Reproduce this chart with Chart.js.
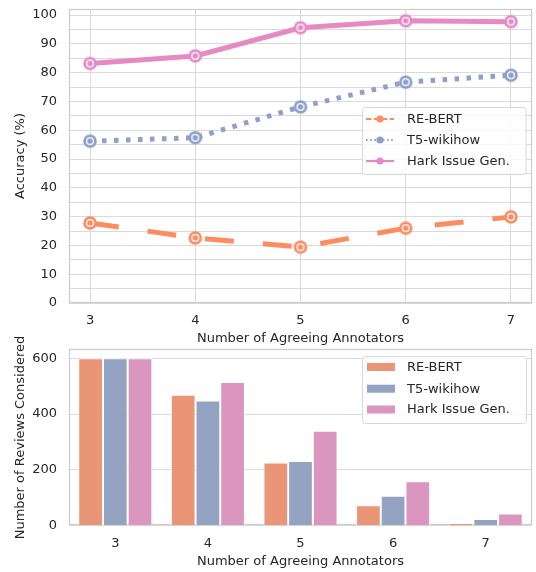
<!DOCTYPE html>
<html><head><meta charset="utf-8">
<script src="https://cdn.jsdelivr.net/npm/chart.js@4.4.1/dist/chart.umd.min.js"></script>
<style>
html,body{margin:0;padding:0;background:#fff;}
canvas{position:absolute;left:0;}
</style></head>
<body>
<canvas id="c1" width="536" height="350" style="top:0px"></canvas>
<canvas id="c2" width="536" height="252" style="top:320px"></canvas>
<script>
// ---------- data ----------
const annotators = [3, 4, 5, 6, 7];
const seriesNames = ['RE-BERT', 'T5-wikihow', 'Hark Issue Gen.'];
const accReBert = [27.8, 22.6, 19.4, 26.0, 29.9];
const accT5 = [56.2, 57.4, 68.1, 76.7, 79.1];
const accHark = [83.2, 85.8, 95.6, 98.0, 97.7];
const revReBert = [600, 469, 226, 73, 10];
const revT5 = [600, 449, 232, 107, 24];
const revHark = [600, 515, 340, 159, 44];
const accTickLabels = [0, 10, 20, 30, 40, 50, 60, 70, 80, 90, 100];
const accGridLines = [0, 5, 10, 15, 20, 25, 30, 35, 40, 45, 50, 55, 60, 65, 70, 75, 80, 85, 90, 95, 100];
const revTickLabels = [0, 200, 400, 600];
const xTitle = 'Number of Agreeing Annotators';
const accTitle = 'Accuracy (%)';
const revTitle = 'Number of Reviews Considered';

// ---------- styles ----------
const lineColors = ['#fc8d62', '#8da0cb', '#e78ac3'];
const barColors = ['#e99576', '#95a3c3', '#db96c0'];
const lineDashes = [[29, 29], [4.5, 7.5], []];
const legendDashes = [[5.5, 2.4], [1.6, 2.6], []];
const textColor = '#262626';
const gridColor = '#dadada';
const edgeColor = '#cccccc';
const FONT = 'DejaVu Sans';
Chart.defaults.font.family = FONT;
Chart.defaults.font.size = 13;
Chart.defaults.color = textColor;

function makeMarker(color) {
  const c = document.createElement('canvas');
  c.width = 16; c.height = 16;
  const g = c.getContext('2d');
  g.fillStyle = color;
  g.beginPath(); g.arc(8, 8, 6.8, 0, Math.PI * 2); g.fill();
  g.strokeStyle = '#ffffff'; g.lineWidth = 1.3;
  g.beginPath(); g.arc(8, 8, 3.4, 0, Math.PI * 2); g.stroke();
  return c;
}

function roundRect(ctx, x, y, w, h, r) {
  ctx.beginPath();
  ctx.moveTo(x + r, y);
  ctx.lineTo(x + w - r, y); ctx.quadraticCurveTo(x + w, y, x + w, y + r);
  ctx.lineTo(x + w, y + h - r); ctx.quadraticCurveTo(x + w, y + h, x + w - r, y + h);
  ctx.lineTo(x + r, y + h); ctx.quadraticCurveTo(x, y + h, x, y + h - r);
  ctx.lineTo(x, y + r); ctx.quadraticCurveTo(x, y, x + r, y);
  ctx.closePath();
}

const framePlugin = {
  id: 'frame',
  beforeDatasetsDraw(chart) {
    const a = chart.chartArea, ctx = chart.ctx;
    ctx.save();
    ctx.strokeStyle = edgeColor; ctx.lineWidth = 1.25;
    ctx.strokeRect(Math.round(a.left) + 0.5, Math.round(a.top) + 0.5,
      Math.round(a.right - a.left) - 1, Math.round(a.bottom - a.top) - 1);
    ctx.restore();
  }
};

function yTitlePlugin(text, cx) {
  return {
    id: 'yTitle',
    afterDraw(chart) {
      const a = chart.chartArea, ctx = chart.ctx;
      ctx.save();
      ctx.translate(cx, (a.top + a.bottom) / 2);
      ctx.rotate(-Math.PI / 2);
      ctx.fillStyle = textColor;
      ctx.font = '13px "' + FONT + '"';
      ctx.textAlign = 'center'; ctx.textBaseline = 'middle';
      ctx.fillText(text, 0, 0);
      ctx.restore();
    }
  };
}

function legendPlugin(cfg) {
  return {
    id: 'customLegend',
    afterDatasetsDraw(chart) {
      const ctx = chart.ctx;
      ctx.save();
      roundRect(ctx, cfg.x + 0.5, cfg.y + 0.5, cfg.w, cfg.h, 3);
      ctx.fillStyle = 'rgba(255,255,255,0.8)'; ctx.fill();
      ctx.strokeStyle = '#d8d8d8'; ctx.lineWidth = 1; ctx.stroke();
      seriesNames.forEach((name, i) => {
        const cy = cfg.rows[i];
        if (cfg.kind === 'line') {
          ctx.strokeStyle = lineColors[i]; ctx.lineWidth = 2;
          ctx.setLineDash(legendDashes[i]);
          ctx.beginPath(); ctx.moveTo(cfg.sx0, cy); ctx.lineTo(cfg.sx1, cy); ctx.stroke();
          ctx.setLineDash([]);
          ctx.fillStyle = lineColors[i];
          ctx.beginPath(); ctx.arc((cfg.sx0 + cfg.sx1) / 2, cy, 3.6, 0, Math.PI * 2); ctx.fill();
        } else {
          ctx.fillStyle = barColors[i];
          ctx.fillRect(cfg.sx0, cy - 4, cfg.sx1 - cfg.sx0, 8);
        }
        ctx.fillStyle = textColor;
        ctx.font = '13px "' + FONT + '"';
        ctx.textBaseline = 'middle'; ctx.textAlign = 'left';
        ctx.fillText(name, cfg.tx, cy + 0.5);
      });
      ctx.restore();
    }
  };
}

function zeroPad(scale) {
  scale.paddingTop = 0; scale.paddingBottom = 0;
  scale.paddingLeft = 0; scale.paddingRight = 0;
}
const sameVal = (list, v) => list.some(t => Math.abs(t - v) < 1e-6);

// ---------- top chart: accuracy ----------
const accSeries = [accReBert, accT5, accHark];
new Chart(document.getElementById('c1'), {
  type: 'line',
  data: {
    datasets: accSeries.map((vals, i) => ({
      label: seriesNames[i],
      data: annotators.map((a, k) => ({ x: a, y: vals[k] })),
      borderColor: lineColors[i],
      backgroundColor: lineColors[i],
      borderWidth: 5,
      borderDash: lineDashes[i],
      borderCapStyle: 'butt',
      pointStyle: makeMarker(lineColors[i]),
      pointRadius: 7,
      tension: 0,
      fill: false,
      clip: false
    }))
  },
  options: {
    responsive: false,
    animation: false,
    devicePixelRatio: 1,
    layout: { autoPadding: false, padding: { left: 0, right: 4, top: 9, bottom: 3.5 } },
    plugins: { legend: { display: false }, tooltip: { enabled: false } },
    scales: {
      x: {
        type: 'linear', min: 2.8, max: 7.2,
        afterBuildTicks: s => { s.ticks = annotators.map(v => ({ value: v })); },
        afterFit: s => { s.height = 43.5; zeroPad(s); },
        grid: { color: gridColor, drawTicks: false, lineWidth: 1 },
        border: { display: false },
        ticks: { padding: 10, autoSkip: false, color: textColor, font: { size: 13 }, callback: v => String(v) },
        title: { display: true, text: xTitle, color: textColor, font: { size: 13 }, padding: { top: 0, bottom: 0 } }
      },
      y: {
        min: 0, max: 102.1,
        ticks: { autoSkip: false, padding: 12, color: textColor, font: { size: 13 },
          callback: v => sameVal(accTickLabels, v) ? String(Math.round(v)) : '' },
        afterBuildTicks: s => { s.ticks = accGridLines.map(v => ({ value: v })); },
        afterFit: s => { s.width = 69; zeroPad(s); },
        grid: { color: gridColor, drawTicks: false, lineWidth: 1 },
        border: { display: false },
        title: { display: false }
      }
    }
  },
  plugins: [framePlugin, yTitlePlugin(accTitle, 21), legendPlugin({
    kind: 'line', x: 362, y: 107, w: 163.5, h: 67,
    rows: [119, 140, 161], sx0: 366, sx1: 394, tx: 407
  })]
});

// ---------- bottom chart: reviews ----------
const revSeries = [revReBert, revT5, revHark];
new Chart(document.getElementById('c2'), {
  type: 'bar',
  data: {
    labels: annotators.map(String),
    datasets: revSeries.map((vals, i) => ({
      label: seriesNames[i],
      data: vals,
      backgroundColor: barColors[i],
      borderColor: '#ffffff',
      borderWidth: 1,
      borderSkipped: 'start',
      categoryPercentage: 0.8,
      barPercentage: 1.0
    }))
  },
  options: {
    responsive: false,
    animation: false,
    devicePixelRatio: 1,
    layout: { autoPadding: false, padding: { left: 0, right: 4, top: 29.3, bottom: 2.7 } },
    plugins: { legend: { display: false }, tooltip: { enabled: false } },
    scales: {
      x: {
        offset: true,
        afterFit: s => { s.height = 43.6; zeroPad(s); },
        grid: { display: false, drawTicks: false },
        border: { display: false },
        ticks: { padding: 10, autoSkip: false, color: textColor, font: { size: 13 } },
        title: { display: true, text: xTitle, color: textColor, font: { size: 13 }, padding: { top: 0, bottom: 0 } }
      },
      y: {
        min: 0, max: 632,
        ticks: { autoSkip: false, padding: 12, color: textColor, font: { size: 13 },
          callback: v => sameVal(revTickLabels, v) ? String(Math.round(v)) : '' },
        afterBuildTicks: s => { s.ticks = revTickLabels.map(v => ({ value: v })); },
        afterFit: s => { s.width = 69; zeroPad(s); },
        grid: { color: gridColor, drawTicks: false, lineWidth: 1 },
        border: { display: false },
        title: { display: false }
      }
    }
  },
  plugins: [framePlugin, yTitlePlugin(revTitle, 21), legendPlugin({
    kind: 'bar', x: 362, y: 36, w: 164, h: 67,
    rows: [47, 68.7, 89.5], sx0: 367, sx1: 395, tx: 407
  })]
});
</script>
</body></html>
